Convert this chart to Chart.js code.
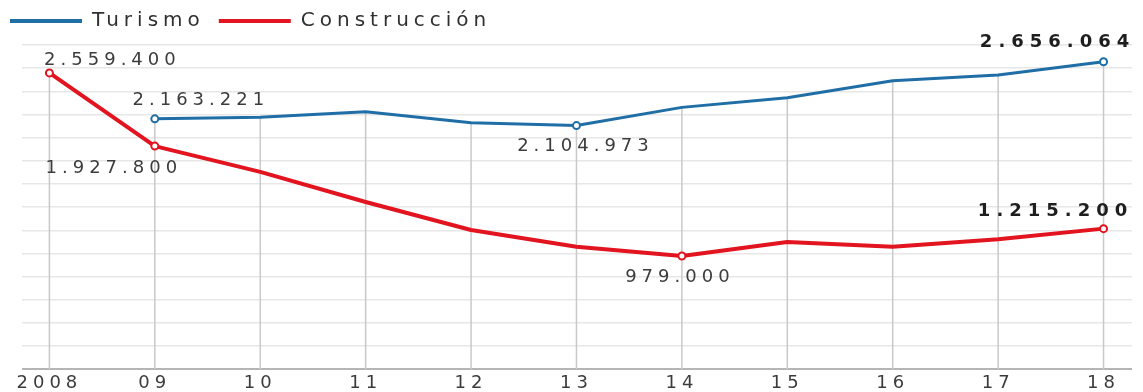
<!DOCTYPE html>
<html lang="es">
<head>
<meta charset="utf-8">
<title>Turismo y Construcción</title>
<script src="https://cdn.jsdelivr.net/npm/chart.js@4.4.1/dist/chart.umd.min.js"></script>
<style>
  html, body { margin: 0; padding: 0; background: #fff; }
  #wrap { position: relative; width: 1143px; height: 392px; }
</style>
</head>
<body>
<div id="wrap"><canvas id="chart"></canvas></div>
<script>
'use strict';

// ── Data ────────────────────────────────────────────────────────
const YEARS = ['2008', '09', '10', '11', '12', '13', '14', '15', '16', '17', '18'];
const TURISMO = [null, 2163221, 2176000, 2225000, 2130000, 2104973, 2262000, 2345000, 2492000, 2541000, 2656064];
const CONSTRUCCION = [2559400, 1927800, 1705000, 1445000, 1203000, 1059000, 979000, 1099000, 1059000, 1123000, 1215200];
const GRID_TOP = 2800000;
const GRID_STEP = 200000;

// ── Theme ───────────────────────────────────────────────────────
const COLORS = {
  blue:   '#1f6ea6',
  red:    '#e2141f',
  grid:   '#e7e7e7',
  base:   '#b5b5b5',
  drop:   '#c9c9c9',
  text:   '#3c3c3c',
  bold:   '#1e1e1e',
  legend: '#303030'
};
const FONT = '"DejaVu Sans", sans-serif';
const TRACKING = '5px';

// value callouts: dataset, point, offset from the point, weight
const CALLOUTS = [
  { set: 1, index: 0,  dx: 63,  dy: -13, bold: false },
  { set: 0, index: 1,  dx: 46,  dy: -18, bold: false },
  { set: 1, index: 1,  dx: -41, dy: 22,  bold: false },
  { set: 0, index: 5,  dx: 9,   dy: 21,  bold: false },
  { set: 1, index: 6,  dx: -2,  dy: 21,  bold: false },
  { set: 0, index: 10, dx: -46, dy: -19, bold: true },
  { set: 1, index: 10, dx: -48, dy: -17, bold: true }
];

// ── Helpers ─────────────────────────────────────────────────────
function formatThousands(v) {
  return String(v).replace(/\B(?=(\d{3})+(?!\d))/g, '.');
}

function toPoints(values) {
  return values.map((v, i) => ({ x: i, y: v }));
}

function markerRadius(set) {
  return ctx => CALLOUTS.some(c => c.set === set && c.index === ctx.dataIndex) ? 3.5 : 0;
}

// ── Plugins ─────────────────────────────────────────────────────
// wide tracking for every label on the canvas
const tracking = {
  id: 'tracking',
  beforeLayout(chart) { chart.ctx.letterSpacing = TRACKING; },
  beforeDraw(chart) { chart.ctx.letterSpacing = TRACKING; }
};

// vertical guide from the baseline up to the highest value of each year
const dropLines = {
  id: 'dropLines',
  beforeDatasetsDraw(chart) {
    const { ctx, scales: { x, y } } = chart;
    const base = y.getPixelForValue(0);
    ctx.save();
    ctx.strokeStyle = COLORS.drop;
    ctx.lineWidth = 1.5;
    YEARS.forEach((_, i) => {
      const top = Math.max(...[TURISMO[i], CONSTRUCCION[i]].filter(v => v !== null));
      const px = x.getPixelForValue(i);
      ctx.beginPath();
      ctx.moveTo(px, base);
      ctx.lineTo(px, y.getPixelForValue(top));
      ctx.stroke();
    });
    ctx.restore();
  }
};

const callouts = {
  id: 'callouts',
  afterDatasetsDraw(chart) {
    const ctx = chart.ctx;
    ctx.save();
    ctx.textAlign = 'center';
    ctx.textBaseline = 'middle';
    CALLOUTS.forEach(c => {
      const pt = chart.getDatasetMeta(c.set).data[c.index];
      const value = chart.data.datasets[c.set].data[c.index].y;
      ctx.font = (c.bold ? 'bold ' : '') + '18px ' + FONT;
      ctx.letterSpacing = c.bold ? '6px' : TRACKING;
      ctx.fillStyle = c.bold ? COLORS.bold : COLORS.text;
      ctx.fillText(formatThousands(value), pt.x + c.dx, pt.y + c.dy);
    });
    ctx.restore();
  }
};

// ── Chart ───────────────────────────────────────────────────────
Chart.defaults.font.family = FONT;
Chart.defaults.color = COLORS.text;

const lineSeries = (label, values, color, width, set) => ({
  label,
  data: toPoints(values),
  borderColor: color,
  backgroundColor: color,
  borderWidth: width,
  borderJoinStyle: 'round',
  borderCapStyle: 'round',
  tension: 0,
  pointRadius: markerRadius(set),
  pointHoverRadius: markerRadius(set),
  pointBackgroundColor: '#ffffff',
  pointBorderColor: color,
  pointBorderWidth: 2
});

new Chart(document.getElementById('chart'), {
  type: 'line',
  data: {
    datasets: [
      lineSeries('Turismo', TURISMO, COLORS.blue, 3, 0),
      lineSeries('Construcción', CONSTRUCCION, COLORS.red, 4, 1)
    ]
  },
  options: {
    responsive: true,
    maintainAspectRatio: false,
    animation: false,
    layout: { padding: { top: -3, right: 11, bottom: -6, left: -4 } },
    plugins: {
      tooltip: { enabled: false },
      legend: {
        position: 'top',
        align: 'start',
        labels: {
          boxWidth: 72,
          boxHeight: 4,
          padding: 14,
          color: COLORS.legend,
          font: { size: 20 },
          generateLabels: chart => Chart.defaults.plugins.legend.labels
            .generateLabels(chart).map(l => ({ ...l, lineWidth: 0 }))
        }
      }
    },
    scales: {
      x: {
        type: 'linear',
        min: -0.26,
        max: 10.27,
        afterBuildTicks: scale => { scale.ticks = YEARS.map((_, i) => ({ value: i })); },
        ticks: {
          callback: v => YEARS[v],
          color: COLORS.text,
          font: { size: 18 },
          padding: 3.5,
          maxRotation: 0,
          autoSkip: false
        },
        grid: { display: false, drawTicks: false },
        border: { display: false }
      },
      y: {
        min: 0,
        max: 2835000,
        afterBuildTicks: scale => {
          const ticks = [];
          for (let v = 0; v <= GRID_TOP; v += GRID_STEP) ticks.push({ value: v });
          scale.ticks = ticks;
        },
        afterFit: scale => { scale.width = 26; },
        ticks: { display: false },
        grid: {
          drawTicks: false,
          color: c => c.tick.value === 0 ? COLORS.base : COLORS.grid,
          lineWidth: c => c.tick.value === 0 ? 2 : 1.5
        },
        border: { display: false }
      }
    }
  },
  plugins: [tracking, dropLines, callouts]
});
</script>
</body>
</html>
